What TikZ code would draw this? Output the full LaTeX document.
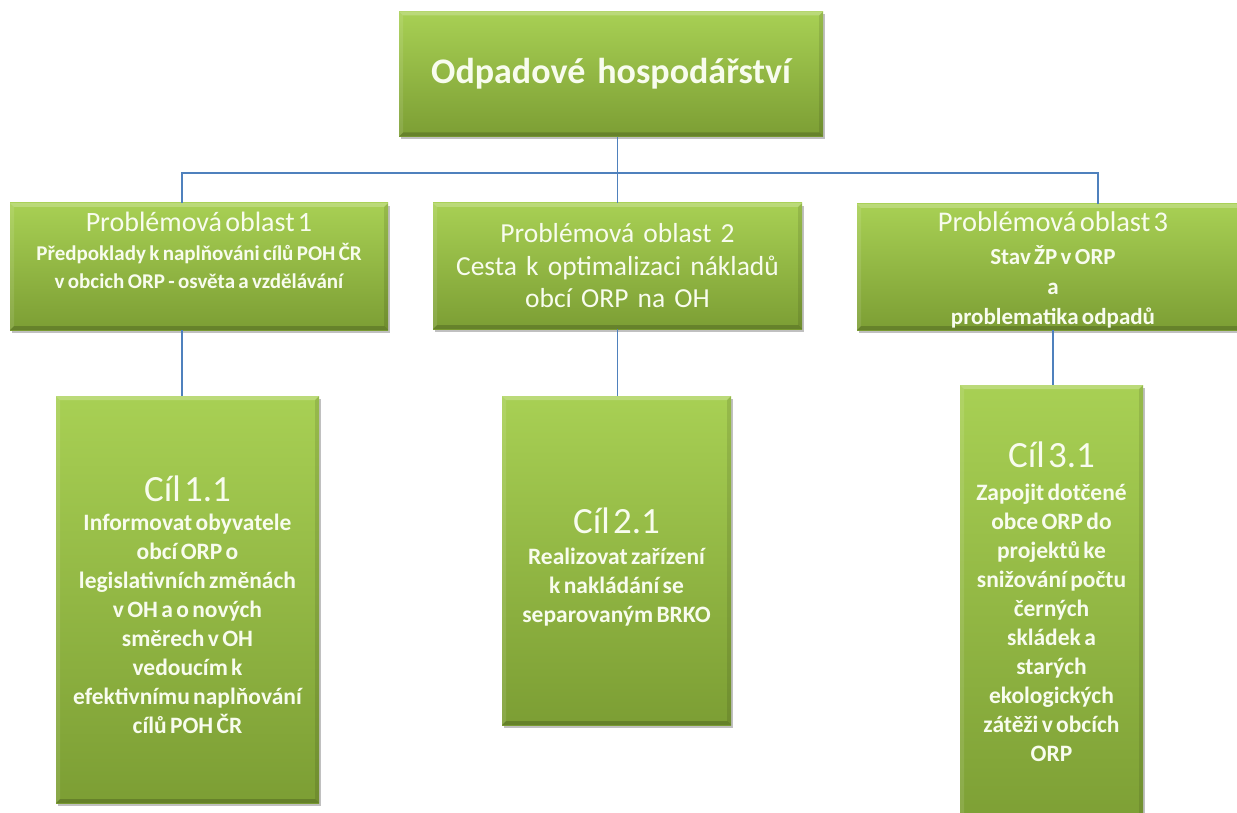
\documentclass[tikz,border=0pt]{standalone}
\usepackage{fontspec}
\setmainfont{Carlito}
\usetikzlibrary{shadows}
\definecolor{gtop}{RGB}{168,208,84}
\definecolor{gbot}{RGB}{124,158,52}
\definecolor{conncol}{RGB}{79,129,189}
\definecolor{txt}{RGB}{248,252,238}
\tikzset{
  gbox/.style={rectangle, inner sep=2pt, align=center, text=txt,
    top color=gtop, bottom color=gbot,
    drop shadow={shadow xshift=2pt, shadow yshift=-3pt, opacity=0.35, fill=black!70},
    path picture={
      \fill[white,opacity=0.22] (path picture bounding box.north west) -- (path picture bounding box.north east)
        -- ([xshift=-4pt,yshift=-4pt]path picture bounding box.north east) -- ([xshift=4pt,yshift=-4pt]path picture bounding box.north west) -- cycle;
      \fill[white,opacity=0.10] (path picture bounding box.north west) -- ([xshift=4pt,yshift=-4pt]path picture bounding box.north west)
        -- ([xshift=4pt,yshift=4pt]path picture bounding box.south west) -- (path picture bounding box.south west) -- cycle;
      \fill[black,opacity=0.18] (path picture bounding box.south west) -- (path picture bounding box.south east)
        -- ([xshift=-4pt,yshift=4pt]path picture bounding box.south east) -- ([xshift=4pt,yshift=4pt]path picture bounding box.south west) -- cycle;
      \fill[black,opacity=0.10] (path picture bounding box.north east) -- ([xshift=-4pt,yshift=-4pt]path picture bounding box.north east)
        -- ([xshift=-4pt,yshift=4pt]path picture bounding box.south east) -- (path picture bounding box.south east) -- cycle;
    }},
  conn/.style={draw=conncol, line width=1.1pt},
}
\begin{document}
\begin{tikzpicture}[x=1pt,y=-1pt]
\useasboundingbox[fill=white] (0,0) rectangle (1237,813);
\begin{scope}
\clip (0,0) rectangle (1237,813);
% top
\node[gbox, minimum width=424pt, minimum height=125pt, text width=416pt, font=\bfseries\fontsize{36}{40}\selectfont] (top) at (611,74) {Odpadové hospodářství};
% problem areas
\node[gbox, minimum width=378pt, minimum height=127pt, text width=370pt] (pa1) at (199,266.5)
  {\fontsize{28}{32}\selectfont Problémová oblast 1\par\vspace{1pt}
   \bfseries\fontsize{21}{28}\selectfont Předpoklady k naplňováni cílů POH ČR\\ v obcich ORP - osvěta a vzdělávání\par\vspace{33pt}};
\node[gbox, minimum width=369pt, minimum height=126pt, text width=361pt, font=\fontsize{27.5}{32.5}\selectfont] (pa2) at (617.5,266)
  {Problémová oblast 2\\ Cesta k optimalizaci nákladů\\ obcí ORP na OH};
\node[gbox, minimum width=392pt, minimum height=126pt, text width=384pt] (pa3) at (1053,267)
  {\fontsize{28.5}{32}\selectfont Problémová oblast 3\par\vspace{3pt}
   \bfseries\fontsize{23}{30}\selectfont Stav ŽP v ORP\\ a\\ problematika odpadů\par\vspace{-6pt}};
% goals
\node[gbox, minimum width=263pt, minimum height=407pt, text width=255pt] (c1) at (187.5,599.5)
  {\fontsize{37}{40}\selectfont Cíl 1.1\par\vspace{0pt}
   \bfseries\fontsize{23.5}{29}\selectfont Informovat obyvatele\\ obcí ORP o\\ legislativních změnách\\ v OH a o nových\\ směrech v OH\\ vedoucím k\\ efektivnímu naplňování\\ cílů POH ČR\par\vspace{-10pt}};
\node[gbox, minimum width=229pt, minimum height=329pt, text width=221pt] (c2) at (616.5,560.5)
  {\fontsize{37}{40}\selectfont Cíl 2.1\par\vspace{2pt}
   \bfseries\fontsize{23.5}{29}\selectfont Realizovat zařízení\\ k nakládání se\\ separovaným BRKO\par\vspace{-12pt}};
\node[gbox, minimum width=183pt, minimum height=450pt, text width=179pt] (c3) at (1051.5,610)
  {\fontsize{37}{40}\selectfont Cíl 3.1\par\vspace{4pt}
   \bfseries\fontsize{23.5}{29}\selectfont Zapojit dotčené\\ obce ORP do\\ projektů ke\\ snižování počtu\\ černých\\ skládek a\\ starých\\ ekologických\\ zátěži v obcích\\ ORP\par\vspace{16pt}};
\end{scope}
% connectors
\coordinate (j1) at (182,173);
\coordinate (j3) at (1098,173);
\draw[conn] (pa1.north -| j1) |- (j3) -- (pa3.north -| j3);
\draw[conn] (top.south -| pa2.north) -- (pa2.north);
\draw[conn] (pa1.south -| j1) -- (c1.north -| j1);
\draw[conn] (pa2.south) -- (pa2.south |- c2.north);
\draw[conn] (pa3.south) -- (pa3.south |- c3.north);
\end{tikzpicture}
\end{document}
